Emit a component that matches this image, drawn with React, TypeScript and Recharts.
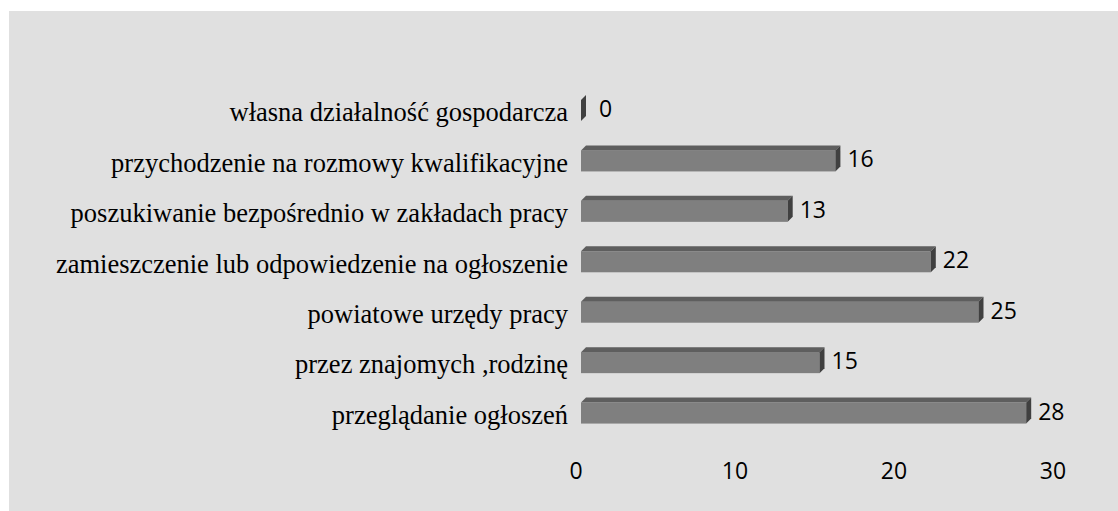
import React from "react";
import { BarChart, Bar, XAxis, YAxis, LabelList } from "recharts";

const categories = [
  "własna działalność gospodarcza",
  "przychodzenie na rozmowy kwalifikacyjne",
  "poszukiwanie bezpośrednio w zakładach pracy",
  "zamieszczenie lub odpowiedzenie na ogłoszenie",
  "powiatowe urzędy pracy",
  "przez znajomych ,rodzinę",
  "przeglądanie ogłoszeń",
];
const values = [0, 16, 13, 22, 25, 15, 28];
const xTicks = [0, 10, 20, 30];

const data = categories.map((name, i) => ({ name, value: values[i] }));

const DEPTH = 5;

// front face + top face + right end, like the old excel 3d bars
const Bar3D = (props: any) => {
  const { x, y, width, height } = props;
  const d = DEPTH;
  const w = Math.max(width || 0, 0);
  const top = `${x},${y} ${x + d},${y - d} ${x + w + d},${y - d} ${x + w},${y}`;
  const side = `${x + w},${y} ${x + w + d},${y - d} ${x + w + d},${y + height - d} ${x + w},${y + height}`;
  return (
    <g>
      {w > 0 && <rect x={x} y={y} width={w} height={height} fill="#7f7f7f" />}
      {w > 0 && <polygon points={top} fill="#5e5e5e" />}
      <polygon points={side} fill="#404040" />
    </g>
  );
};

const CatTick = (props: any) => {
  const { x, y, payload } = props;
  return (
    <text
      x={x - 13}
      y={y + 2}
      textAnchor="end"
      dominantBaseline="central"
      fontFamily="'Liberation Serif', 'Times New Roman', serif"
      fontSize={26.5}
      fill="#000"
    >
      {payload.value}
    </text>
  );
};

const NumTick = (props: any) => {
  const { x, y, payload } = props;
  return (
    <text
      x={x - 5}
      y={y + 32}
      textAnchor="middle"
      dominantBaseline="central"
      fontFamily="'Open Sans', sans-serif"
      fontSize={23}
      fill="#000"
    >
      {payload.value}
    </text>
  );
};

const ValueLabel = (props: any) => {
  const { x, y, width, height, value } = props;
  const w = Math.max(width, 0);
  return (
    <text
      x={x + w + DEPTH + (w > 0 ? 7 : 13)}
      y={y + height / 2 - DEPTH / 2}
      textAnchor="start"
      dominantBaseline="central"
      fontFamily="'Open Sans', sans-serif"
      fontSize={23}
      fill="#000"
    >
      {value}
    </text>
  );
};

export default function App() {
  return (
    <div style={{ position: "absolute", left: 0, top: 0, width: 1118, height: 511, background: "#fff" }}>
      <div style={{ position: "absolute", left: 9, top: 11, width: 1109, height: 500, background: "#e0e0e0" }}>
        <BarChart
          width={1109}
          height={500}
          data={data}
          layout="vertical"
          margin={{ top: 74, right: 60, bottom: 0, left: 0 }}
          barCategoryGap={0}
        >
          <XAxis
            type="number"
            domain={[0, 30]}
            ticks={xTicks}
            axisLine={false}
            tickLine={false}
            tickSize={0}
            tickMargin={0}
            height={73}
            tick={<NumTick />}
            interval={0}
          />
          <YAxis
            type="category"
            dataKey="name"
            width={572}
            axisLine={false}
            tickLine={false}
            tickSize={0}
            tickMargin={0}
            tick={<CatTick />}
            interval={0}
          />
          <Bar dataKey="value" barSize={21} shape={<Bar3D />} isAnimationActive={false}>
            <LabelList dataKey="value" content={<ValueLabel />} />
          </Bar>
        </BarChart>
      </div>
    </div>
  );
}
